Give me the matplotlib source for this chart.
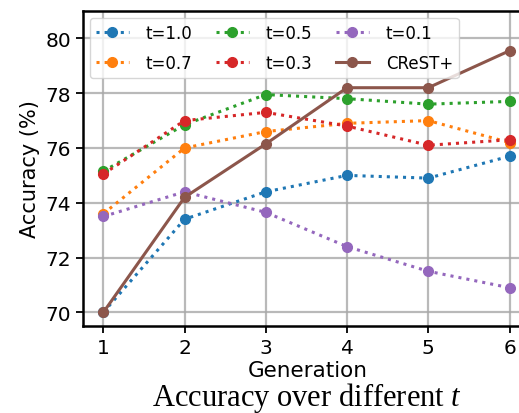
import matplotlib.pyplot as plt

# accuracy per generation
generations = [1, 2, 3, 4, 5, 6]
acc_t10 = [70.0, 73.4, 74.4, 75.0, 74.9, 75.7]
acc_t07 = [73.6, 76.0, 76.6, 76.9, 77.0, 76.2]
acc_t05 = [75.15, 76.85, 77.95, 77.8, 77.6, 77.7]
acc_t03 = [75.05, 77.0, 77.3, 76.8, 76.1, 76.3]
acc_t01 = [73.5, 74.4, 73.65, 72.4, 71.5, 70.9]
acc_crest = [70.0, 74.2, 76.15, 78.2, 78.2, 79.55]

series = [("t=1.0", acc_t10, "tab:blue"),
          ("t=0.7", acc_t07, "tab:orange"),
          ("t=0.5", acc_t05, "tab:green"),
          ("t=0.3", acc_t03, "tab:red"),
          ("t=0.1", acc_t01, "tab:purple")]

plt.rcParams["mathtext.fontset"] = "custom"
plt.rcParams["mathtext.rm"] = "Liberation Serif"
plt.rcParams["mathtext.it"] = "Liberation Serif:italic"

fig = plt.figure(figsize=(5.19, 4.14), dpi=100)
# right edge of the axes runs past the figure, as in the reference crop
ax = fig.add_axes([0.160, 0.210, 0.90, 0.761])

for name, vals, col in series:
    ax.plot(generations, vals, linestyle=":", linewidth=2.2, marker="o",
            markersize=7, color=col, label=name)
ax.plot(generations, acc_crest, linestyle="-", linewidth=2.2, marker="o",
        markersize=7, color="tab:brown", label="CReST+")

ax.set_xlim(0.75, 6.5)
ax.set_ylim(69.5, 81.0)
ax.set_xticks(generations)
ax.set_yticks([70, 72, 74, 76, 78, 80])
ax.tick_params(labelsize=14.5, width=1.3, length=5)
ax.grid(True, color="#a8a8a8", linewidth=1.6, alpha=0.8)
for s in ax.spines.values():
    s.set_linewidth(1.8)

ax.set_xlabel("Generation", fontsize=15.5)
ax.xaxis.set_label_coords(0.482, -0.108)
ax.set_ylabel("Accuracy (%)", fontsize=15, labelpad=4)

ax.legend(ncol=3, loc="upper left", fontsize=12, columnspacing=1.4,
          handletextpad=1.0, borderaxespad=0.4, labelspacing=0.75,
          borderpad=0.35)

fig.text(0.592, 0.020, r"Accuracy over different $t$", fontsize=22,
         family="Liberation Serif", ha="center", va="baseline")

fig.savefig("out.png", dpi=100)
